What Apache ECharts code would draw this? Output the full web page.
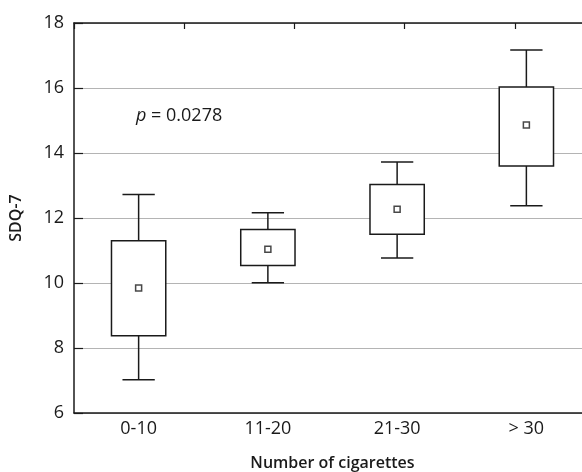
<!DOCTYPE html>
<html>
<head>
<meta charset="utf-8">
<script src="https://cdn.jsdelivr.net/npm/echarts@6/dist/echarts.min.js"></script>
<style>
  html, body { margin: 0; padding: 0; background: #fff; overflow: hidden; }
  #chart { width: 582px; height: 472px; }
</style>
</head>
<body>
<div id="chart"></div>
<script>
// groups on the x axis
const categories = ["0-10", "11-20", "21-30", "> 30"];
// whisker ends, box edges and mean, per group
const whiskerLow = [7.02, 10.01, 10.77, 12.38];
const boxLow = [8.38, 10.54, 11.5, 13.6];
const boxHigh = [11.3, 11.65, 13.03, 16.03];
const whiskerHigh = [12.72, 12.16, 13.72, 17.17];
const means = [9.85, 11.04, 12.27, 14.86];
const yTicks = [6, 8, 10, 12, 14, 16, 18];
const pLabel = "0.0278";

const font = "'Open Sans', 'Noto Sans', sans-serif";
const ink = "#1a1a1a";

const boxData = categories.map((c, i) => [i, whiskerLow[i], boxLow[i], boxHigh[i], whiskerHigh[i]]);
const meanData = categories.map((c, i) => [i, means[i]]);

const chart = echarts.init(document.getElementById("chart"));

function renderBox(params, api) {
  const x = api.value(0);
  const lo = api.coord([x, api.value(1)]);
  const q1 = api.coord([x, api.value(2)]);
  const q3 = api.coord([x, api.value(3)]);
  const hi = api.coord([x, api.value(4)]);
  const band = api.size([1, 0])[0];
  const boxW = band * 0.42;
  const capW = band * 0.25;
  const cx = lo[0];
  const style = { stroke: ink, lineWidth: 1.5, fill: null };
  return {
    type: "group",
    children: [
      { type: "line", shape: { x1: cx, y1: q1[1], x2: cx, y2: lo[1] }, style: style },
      { type: "line", shape: { x1: cx, y1: q3[1], x2: cx, y2: hi[1] }, style: style },
      { type: "line", shape: { x1: cx - capW / 2, y1: lo[1], x2: cx + capW / 2, y2: lo[1] }, style: style },
      { type: "line", shape: { x1: cx - capW / 2, y1: hi[1], x2: cx + capW / 2, y2: hi[1] }, style: style },
      {
        type: "rect",
        shape: { x: cx - boxW / 2, y: q3[1], width: boxW, height: q1[1] - q3[1] },
        style: { stroke: ink, lineWidth: 1.5, fill: "#fff" }
      }
    ]
  };
}

const option = {
  backgroundColor: "#fff",
  animation: false,
  grid: { left: 74, right: -9, top: 23, bottom: 59, outerBoundsMode: "none", containLabel: false },
  xAxis: [
    {
      type: "category",
      data: categories,
      boundaryGap: true,
      axisLine: { lineStyle: { color: ink, width: 1.5 } },
      axisTick: { inside: true, length: 6, alignWithLabel: true, lineStyle: { color: ink, width: 1.2 } },
      axisLabel: { color: ink, fontSize: 18, fontFamily: font, margin: 7 },
      name: "Number of cigarettes",
      nameLocation: "middle",
      nameGap: 42,
      nameTextStyle: { color: ink, fontSize: 16, fontWeight: 600, fontFamily: font }
    },
    {
      // top frame with its own inward ticks
      type: "value",
      position: "top",
      min: 0,
      max: 4.6909,
      interval: 1,
      axisLine: { show: true, lineStyle: { color: ink, width: 1.5 } },
      axisTick: { show: true, inside: true, length: 6, lineStyle: { color: ink, width: 1.2 } },
      axisLabel: { show: false },
      splitLine: { show: false }
    }
  ],
  yAxis: {
    type: "value",
    min: yTicks[0],
    max: yTicks[yTicks.length - 1],
    interval: 2,
    axisLine: { show: true, lineStyle: { color: ink, width: 1.5 } },
    axisTick: { show: true, inside: true, length: 9, lineStyle: { color: ink, width: 1.2 } },
    axisLabel: { color: ink, fontSize: 18, fontFamily: font, margin: 10 },
    splitLine: { show: true, lineStyle: { color: "#b4b4b4", width: 1.2 } },
    name: "SDQ-7",
    nameLocation: "middle",
    nameGap: 50,
    nameTextStyle: { color: ink, fontSize: 16, fontWeight: 600, fontFamily: font }
  },
  graphic: [
    {
      type: "text",
      left: 136,
      top: 107,
      style: {
        text: "{i|p} = " + pLabel,
        rich: {
          i: { fontStyle: "italic", fontSize: 18, fontFamily: font, fill: ink }
        },
        fontSize: 18,
        fontFamily: font,
        fill: ink
      }
    }
  ],
  series: [
    {
      type: "custom",
      xAxisIndex: 0,
      renderItem: renderBox,
      encode: { x: 0, y: [1, 2, 3, 4] },
      data: boxData,
      z: 2
    },
    {
      type: "scatter",
      xAxisIndex: 0,
      data: meanData,
      symbol: "rect",
      symbolSize: 6,
      itemStyle: { color: "#fff", borderColor: ink, borderWidth: 1.5 },
      z: 3
    }
  ]
};

chart.setOption(option);
</script>
</body>
</html>
